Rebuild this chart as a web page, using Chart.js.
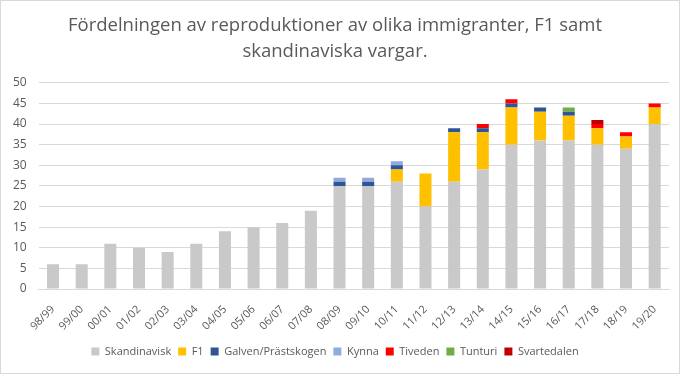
<!DOCTYPE html>
<html>
<head>
  <meta charset="utf-8">
  <title>Fördelningen av reproduktioner</title>
  <script src="https://cdn.jsdelivr.net/npm/chart.js@4.4.0/dist/chart.umd.min.js"></script>
  <style>
    html, body { margin: 0; padding: 0; background: #fff; }
    #wrap { width: 680px; height: 374px; box-sizing: border-box; border: 1px solid #d9d9d9; }
  </style>
</head>
<body>
  <div id="wrap"><canvas id="chart"></canvas></div>

  <script>
    const seasons = ['98/99', '99/00', '00/01', '01/02', '02/03', '03/04', '04/05', '05/06', '06/07', '07/08',
      '08/09', '09/10', '10/11', '11/12', '12/13', '13/14', '14/15', '15/16', '16/17', '17/18', '18/19', '19/20'];

    const skandinavisk = [6, 6, 11, 10, 9, 11, 14, 15, 16, 19, 25, 25, 26, 20, 26, 29, 35, 36, 36, 35, 34, 40];
    const f1 =           [0, 0, 0, 0, 0, 0, 0, 0, 0, 0, 0, 0, 3, 8, 12, 9, 9, 7, 6, 4, 3, 4];
    const galven =       [0, 0, 0, 0, 0, 0, 0, 0, 0, 0, 1, 1, 1, 0, 1, 1, 1, 1, 1, 0, 0, 0];
    const kynna =        [0, 0, 0, 0, 0, 0, 0, 0, 0, 0, 1, 1, 1, 0, 0, 0, 0, 0, 0, 0, 0, 0];
    const tiveden =      [0, 0, 0, 0, 0, 0, 0, 0, 0, 0, 0, 0, 0, 0, 0, 1, 1, 0, 0, 1, 1, 1];
    const tunturi =      [0, 0, 0, 0, 0, 0, 0, 0, 0, 0, 0, 0, 0, 0, 0, 0, 0, 0, 1, 0, 0, 0];
    const svartedalen =  [0, 0, 0, 0, 0, 0, 0, 0, 0, 0, 0, 0, 0, 0, 0, 0, 0, 0, 0, 1, 0, 0];

    const txt = '#595959';
    const font = "'Open Sans', 'Noto Sans', sans-serif";

    function series(label, data, color) {
      return { label: label, data: data, backgroundColor: color, borderWidth: 0,
        barPercentage: 0.84, categoryPercentage: 0.5, stack: 's' };
    }

    new Chart(document.getElementById('chart'), {
      type: 'bar',
      data: {
        labels: seasons,
        datasets: [
          series('Skandinavisk', skandinavisk, '#c9c9c9'),
          series('F1', f1, '#ffc000'),
          series('Galven/Prästskogen', galven, '#2f5597'),
          series('Kynna', kynna, '#8faadc'),
          series('Tiveden', tiveden, '#ff0000'),
          series('Tunturi', tunturi, '#70ad47'),
          series('Svartedalen', svartedalen, '#c00000')
        ]
      },
      options: {
        responsive: true,
        maintainAspectRatio: false,
        animation: false,
        layout: { padding: { left: 0, right: 10, top: 4, bottom: 6 } },
        plugins: {
          title: {
            display: true,
            text: ['Fördelningen av reproduktioner av olika immigranter, F1 samt', 'skandinaviska vargar.'],
            color: txt,
            font: { family: font, size: 18.5, weight: 'normal', lineHeight: 1.4 },
            padding: { top: 8, bottom: 18 }
          },
          legend: {
            position: 'bottom',
            labels: {
              color: txt,
              font: { family: font, size: 11 },
              usePointStyle: true,
              pointStyle: 'rect',
              boxWidth: 8,
              boxHeight: 8,
              padding: 7
            }
          },
          tooltip: { enabled: false }
        },
        scales: {
          x: {
            stacked: true,
            grid: { display: false },
            border: { color: '#d9d9d9' },
            ticks: { color: txt, font: { family: font, size: 11 }, minRotation: 45, maxRotation: 45, padding: 6 }
          },
          y: {
            stacked: true,
            min: 0,
            max: 50,
            ticks: { stepSize: 5, color: txt, font: { family: font, size: 12 }, padding: 12 },
            grid: { color: '#d9d9d9', lineWidth: 1, drawTicks: false },
            border: { display: false }
          }
        }
      }
    });
  </script>
</body>
</html>
